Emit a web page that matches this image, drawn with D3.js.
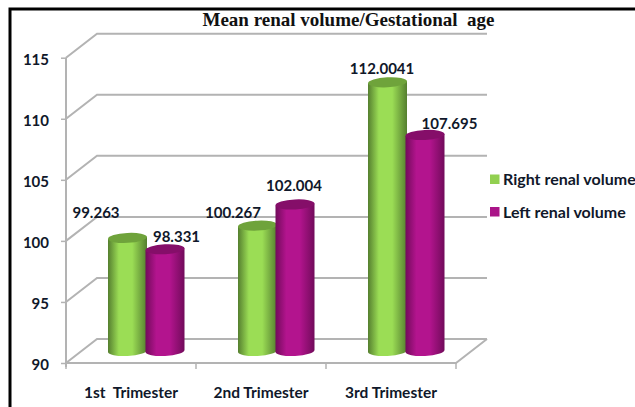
<!DOCTYPE html>
<html><head><meta charset="UTF-8">
<style>
html, body { margin: 0; padding: 0; background: #fff; }
svg { display: block; }
text { font-family: Lato, "Open Sans", sans-serif; font-weight: 700; fill: #10182a; }
.title { font-family: "Liberation Serif", serif; font-size: 19px; fill: #111; white-space: pre; }
.grid { stroke: #b3b3b3; stroke-width: 2; fill: none; }
.axis .domain { display: none; }
.axis line { stroke: #b3b3b3; stroke-width: 1.5; }
.axis.y text { font-size: 15px; }
.axis.x text { font-size: 15.5px; white-space: pre; }
</style>
</head>
<body>
<svg width="635" height="407"></svg>
<script src="https://cdn.jsdelivr.net/npm/d3@7"></script>
<script>

var categories = ["1st  Trimester", "2nd Trimester", "3rd Trimester"];
var seriesNames = ["Right renal volume", "Left renal volume"];
var rightValues = [99.263, 100.267, 112.0041];
var leftValues = [98.331, 102.004, 107.695];
var rightLabels = ["99.263", "100.267", "112.0041"];
var leftLabels = ["98.331", "102.004", "107.695"];
var yTicks = [90, 95, 100, 105, 110, 115];

var svg = d3.select("svg");

// frame, right and bottom sides run off the picture
svg.append("rect").attr("x", 10).attr("y", 9).attr("width", 640).attr("height", 420)
    .attr("fill", "none").attr("stroke", "#000").attr("stroke-width", 3);

// 3d box: front plane + depth offset
var depthX = 31, depthY = -24;
var x = d3.scaleBand().domain(categories).range([66, 456]);
var y = d3.scaleLinear().domain([90, 115]).range([363, 57.7]);
var inner = d3.scaleBand().domain(seriesNames).range([0, 75]);

var colors = {
    "Right renal volume": { mid: "#9bdd55", edge: "#557f2f", top: "#6fa33b", legend: "#92d050" },
    "Left renal volume": { mid: "#b3148e", edge: "#720b5b", top: "#850e69", legend: "#aa1488" }
};

var defs = svg.append("defs");
seriesNames.forEach(function(name, i) {
    var g = defs.append("linearGradient").attr("id", "cyl" + i);
    g.append("stop").attr("offset", "0%").attr("stop-color", colors[name].edge);
    g.append("stop").attr("offset", "28%").attr("stop-color", colors[name].mid);
    g.append("stop").attr("offset", "62%").attr("stop-color", colors[name].mid);
    g.append("stop").attr("offset", "100%").attr("stop-color", colors[name].edge);
});

var x0 = x.range()[0], x1 = x.range()[1];

// gridlines on side wall and back wall
var grid = svg.append("g");
yTicks.forEach(function(t) {
    grid.append("path").attr("class", "grid")
        .attr("d", d3.line()([
            [x0, y(t)],
            [x0 + depthX, y(t) + depthY],
            [x1 + depthX, y(t) + depthY]
        ]));
});

// floor front edge, right edge
grid.append("path").attr("class", "grid")
    .attr("d", d3.line()([
        [x0, y(90)],
        [x1, y(90)],
        [x1 + depthX, y(90) + depthY]
    ]));

// value axis line
grid.append("line").attr("class", "grid")
    .attr("x1", x0).attr("x2", x0)
    .attr("y1", y(90) + 4).attr("y2", y(115));

svg.append("g").attr("class", "axis y")
    .attr("transform", "translate(" + x0 + ",0)")
    .call(d3.axisLeft(y).tickValues(yTicks).tickSize(5).tickPadding(12))
    .selectAll("text").attr("y", 1.5);

svg.append("g").attr("class", "axis x")
    .attr("transform", "translate(0," + y(90) + ")")
    .call(d3.axisBottom(x).tickSize(0).tickPadding(24))
    .selectAll(".tick line").remove();

// category ticks sit between the bands
categories.map(function(c) { return x(c); }).concat([x1]).forEach(function(tx) {
    grid.append("line").attr("class", "grid").style("stroke-width", 1.5)
        .attr("x1", tx).attr("x2", tx)
        .attr("y1", y(90)).attr("y2", y(90) + 6);
});

// cylinders, sat in the middle of the floor depth
var rx = 19.5, ry = 5, tilt = -3;
var groupOffset = 42.75;
var series = [rightValues, leftValues];

function barX(c, name) {
    return x(c) + groupOffset + inner(name) + inner.bandwidth() / 2;
}
function barY(v) {
    return y(v) + depthY / 2;
}

seriesNames.forEach(function(name, s) {
    categories.forEach(function(c, i) {
        var cx = barX(c, name);
        var yBase = barY(90);
        var yTop = barY(series[s][i]);
        var g = svg.append("g");
        g.append("path")
            .attr("fill", "url(#cyl" + s + ")")
            .attr("d", "M" + (cx - rx) + "," + (yTop + 1) +
                " L" + (cx - rx) + "," + (yBase + 1) +
                " A" + rx + "," + ry + " " + tilt + " 0 0 " + (cx + rx) + "," + (yBase - 1) +
                " L" + (cx + rx) + "," + (yTop - 1) + " Z");
        g.append("ellipse")
            .attr("cx", cx).attr("cy", yTop).attr("rx", rx).attr("ry", ry)
            .attr("transform", "rotate(" + tilt + " " + cx + " " + yTop + ")")
            .attr("fill", colors[name].top);
    });
});

// data labels were dragged around by hand in the original, so nudge each one
var labelNudge = [
    [[-31.5, -20], [-24.5, -7.7], [-5.5, -8.3]],
    [[11.5, -7.3], [-1, -13.4], [24.5, -5.9]]
];
[rightLabels, leftLabels].forEach(function(labels, s) {
    labels.forEach(function(t, i) {
        svg.append("text")
            .attr("x", barX(categories[i], seriesNames[s]) + labelNudge[s][i][0])
            .attr("y", barY(series[s][i]) + labelNudge[s][i][1])
            .attr("text-anchor", "middle").style("font-size", "15px").text(t);
    });
});

// legend
var legendY = [179.5, 212];
seriesNames.forEach(function(name, i) {
    svg.append("rect").attr("x", 490).attr("y", legendY[i] - 5).attr("width", 9.5).attr("height", 9.5)
        .attr("fill", colors[name].legend);
    svg.append("text").attr("x", 503).attr("y", legendY[i]).attr("dy", "0.35em")
        .style("font-size", "16px").text(name);
});

svg.append("text").attr("class", "title").attr("x", 348.5).attr("y", 26)
    .attr("text-anchor", "middle")
    .text("Mean renal volume/Gestational  age");

</script>
</body></html>
